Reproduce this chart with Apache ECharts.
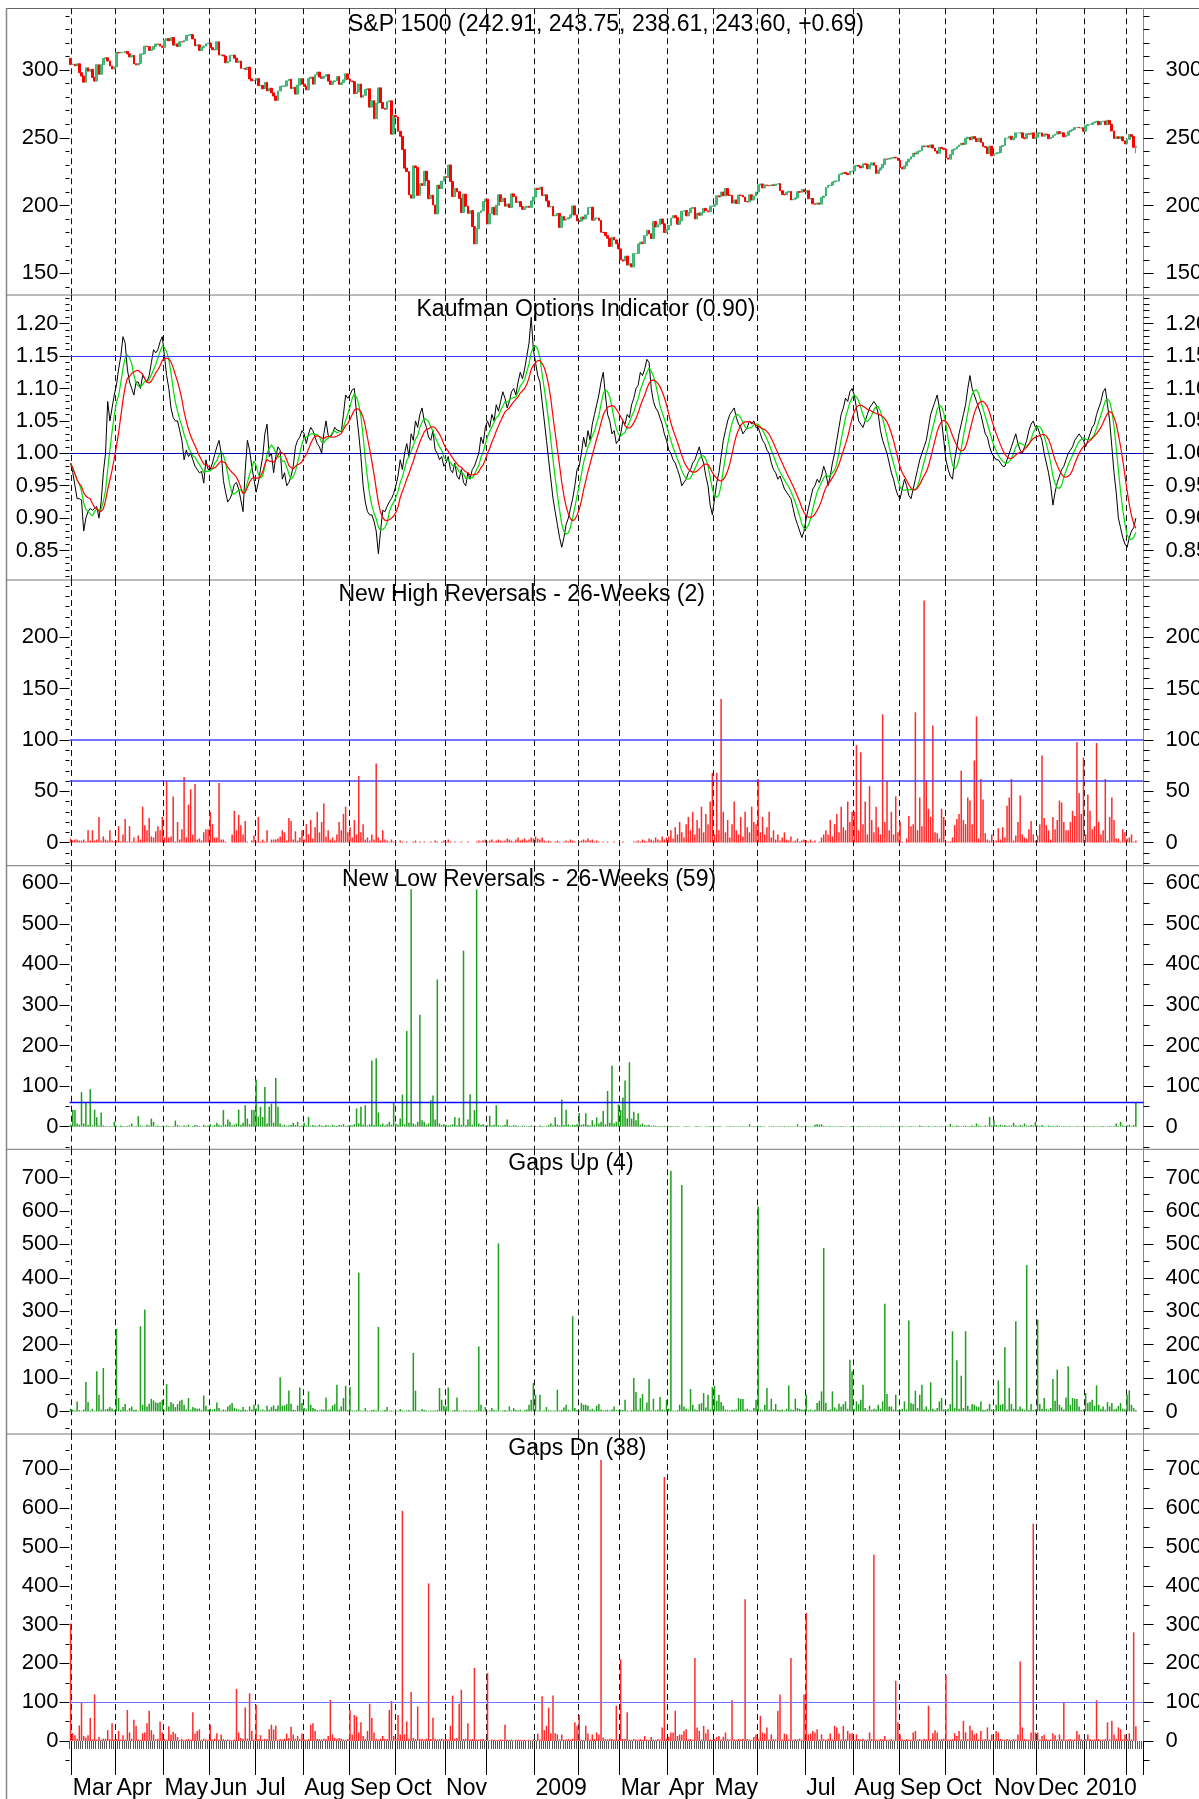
<!DOCTYPE html>
<html>
<head>
<meta charset="utf-8">
<title>S&P 1500 breadth panels</title>
<script src="https://cdn.jsdelivr.net/npm/echarts@6/dist/echarts.min.js"></script>
<style>
  html, body { margin: 0; padding: 0; background: #fff; }
  #main { width: 1199px; height: 1799px; }
</style>
</head>
<body>
<div id="main"></div>
<script>
// ---- calendar ----
const startDate = '2008-02-29';
const endDate = '2010-02-05';
const holidays = ['2008-03-21', '2008-05-26', '2008-07-04', '2008-09-01', '2008-11-27', '2008-12-25',
  '2009-01-01', '2009-01-19', '2009-02-16', '2009-04-10', '2009-05-25', '2009-07-03', '2009-09-07',
  '2009-11-26', '2009-12-25', '2010-01-01', '2010-01-18'];
const padDays = 3; // empty slots after the last bar
// month labels from Mar 2008 to Feb 2010 ('' = not printed)
const monthLabels = ['Mar', 'Apr', 'May', 'Jun', 'Jul', 'Aug', 'Sep', 'Oct', 'Nov', '', '2009', '',
  'Mar', 'Apr', 'May', '', 'Jul', 'Aug', 'Sep', 'Oct', 'Nov', 'Dec', '2010', ''];

// ---- S&P 1500 closes ----
const firstOpen = 308.6;
const lastHighLow = [243.75, 238.61];
const closes = [
  304.0,
  304.2, 303.0, 304.6, 298.0, 295.5, 291.0, 301.6, 299.1, 300.5, 294.5, 291.8, 303.9, 296.8, 303.9, 308.5, 309.0, 306.6, 303.0, 300.7, 302.3,
  313.0, 312.6, 313.0, 313.0, 313.7, 311.9, 309.6, 310.8, 304.6, 303.7, 304.8, 311.7, 311.9, 317.6, 317.2, 314.4, 315.3, 317.4, 319.2, 319.0, 317.6, 316.7,
  322.0, 323.1, 321.5, 324.0, 318.3, 319.2, 317.4, 320.8, 320.6, 321.7, 325.4, 325.8, 326.1, 322.9, 317.8, 318.5, 314.4, 316.5, 317.6, 319.4, 319.9,
  316.5, 314.9, 314.9, 320.8, 311.0, 311.0, 310.3, 305.3, 306.2, 310.8, 311.0, 308.7, 305.7, 306.6, 301.2, 301.2, 300.5, 302.1, 293.4, 292.0, 292.5,
  293.6, 288.4, 288.6, 286.1, 290.9, 284.5, 286.5, 283.1, 280.8, 277.6, 284.5, 287.9, 288.1, 288.1, 292.0, 293.2, 286.3, 287.2, 282.2, 288.8, 293.6, 289.5,
  287.9, 285.4, 293.6, 294.8, 289.5, 296.4, 298.4, 294.8, 293.9, 295.4, 296.6, 291.8, 289.3, 291.3, 292.0, 295.2, 289.3, 290.7, 292.7, 297.1, 293.2,
  291.8, 291.3, 282.6, 283.8, 289.7, 279.9, 281.3, 285.6, 286.1, 272.6, 277.4, 264.1, 275.6, 286.8, 276.0, 271.7, 271.0, 276.5, 277.2, 252.7, 266.4,
  265.3, 254.8, 251.1, 241.3, 227.6, 225.1, 207.9, 205.4, 229.2, 228.0, 207.5, 216.2, 214.8, 225.3, 218.4, 205.0, 207.7, 200.4, 193.8, 215.0, 212.5, 218.0, 221.4,
  220.7, 229.9, 217.8, 206.6, 212.7, 210.2, 205.2, 194.9, 208.4, 199.5, 194.2, 196.3, 184.4, 171.8, 182.8, 194.7, 196.1, 202.9, 204.7,
  186.5, 194.0, 198.8, 193.1, 200.2, 207.9, 202.9, 205.4, 199.5, 201.1, 198.6, 208.6, 206.6, 202.2, 202.9, 199.3, 197.2, 198.6, 199.5, 198.6, 203.4, 206.3,
  212.7, 211.8, 213.6, 207.3, 207.9, 203.4, 199.0, 199.3, 192.4, 192.9, 194.2, 183.9, 191.9, 189.2, 190.1, 191.0, 193.1, 199.7, 193.1, 188.7,
  188.5, 191.5, 190.1, 193.1, 198.6, 198.8, 189.2, 190.6, 190.8, 189.0, 180.3, 180.1, 177.8, 175.9, 169.8, 176.6, 174.6, 171.8, 168.0,
  160.0, 159.0, 162.7, 156.1, 157.0, 154.7, 164.5, 164.7, 171.6, 173.0, 172.1, 177.8, 181.7, 179.1, 175.7, 188.1, 184.2, 185.8, 190.1, 186.5, 180.1, 182.3,
  185.3, 190.8, 192.6, 191.0, 186.2, 188.7, 195.8, 196.3, 192.4, 194.9, 197.9, 198.6, 190.1, 194.5, 192.9, 194.7, 197.9, 196.1, 195.4, 199.5, 199.5,
  200.6, 207.2, 206.3, 210.0, 207.2, 212.5, 207.7, 207.5, 201.8, 204.1, 201.5, 207.7, 207.5, 206.3, 202.9, 202.7, 207.9, 204.1, 207.0, 210.0,
  215.2, 215.9, 213.0, 215.2, 214.8, 214.6, 215.2, 214.8, 215.7, 216.2, 210.9, 208.2, 207.9, 209.8, 210.4, 204.1, 204.7, 205.7, 210.2, 209.8, 211.8, 210.0,
  210.9, 205.0, 205.2, 201.3, 200.9, 201.8, 201.1, 205.9, 207.0, 213.2, 214.8, 215.0, 217.3, 218.0, 218.0, 223.0, 223.7, 224.4, 223.7, 222.8, 225.3, 225.5,
  229.2, 229.6, 229.0, 227.8, 230.8, 230.3, 227.1, 229.9, 231.5, 229.6, 223.7, 226.2, 227.8, 230.3, 234.4, 234.2, 234.9, 235.1, 235.6, 235.1, 233.3,
  228.0, 227.1, 229.2, 232.2, 234.2, 236.0, 238.6, 238.1, 239.7, 240.4, 244.0, 243.4, 244.0, 243.1, 244.7, 242.4, 240.2, 238.6, 242.9, 242.2, 241.5,
  235.1, 234.2, 237.6, 241.1, 241.8, 243.4, 244.7, 245.9, 245.2, 249.5, 250.4, 248.4, 250.9, 249.3, 247.2, 249.7, 246.5, 243.6, 242.9, 238.3, 243.8, 236.7,
  238.1, 238.8, 239.0, 243.6, 244.3, 249.7, 249.7, 251.1, 248.6, 250.0, 253.6, 253.6, 253.6, 250.0, 249.3, 253.0, 252.5, 253.6, 249.5, 250.4,
  253.4, 253.6, 251.1, 252.7, 252.3, 249.3, 250.2, 251.8, 252.7, 254.5, 253.0, 253.6, 250.7, 251.8, 254.5, 255.5, 256.1, 257.5, 257.7, 257.3, 257.3, 254.8,
  258.9, 259.8, 259.8, 260.9, 261.6, 262.1, 259.6, 261.9, 262.3, 259.6, 262.8, 260.0, 255.0, 249.5, 250.7, 249.5, 250.7, 247.7, 245.4,
  248.8, 252.3, 250.9, 242.91, 243.60
];

// ---- Kaufman Options Indicator (raw) ----
const kaufman = [
  0.985,
  0.97, 0.95, 0.93, 0.93, 0.928, 0.88, 0.90, 0.91, 0.915, 0.912, 0.915, 0.918, 0.90, 0.925, 0.97, 1.00, 1.08, 1.05, 1.07, 1.09,
  1.105, 1.13, 1.15, 1.18, 1.17, 1.13, 1.11, 1.10, 1.09, 1.11, 1.11, 1.10, 1.12, 1.115, 1.11, 1.12, 1.14, 1.16, 1.155, 1.16, 1.172, 1.18,
  1.15, 1.12, 1.10, 1.07, 1.055, 1.05, 1.05, 1.035, 1.02, 0.99, 1.005, 0.995, 1.0, 0.99, 0.98, 0.975, 0.97, 0.972, 0.954, 0.99, 0.975,
  0.975, 0.985, 0.998, 1.01, 1.02, 1.0, 0.958, 0.94, 0.925, 0.93, 0.938, 0.952, 0.955, 0.945, 0.928, 0.91, 0.974, 1.02, 1.005, 0.98, 0.96,
  0.94, 0.955, 0.975, 0.995, 1.03, 1.045, 0.995, 1.0, 0.97, 0.995, 1.01, 1.005, 0.96, 0.97, 0.95, 0.955, 0.965, 0.98, 1.01, 1.02, 1.025, 1.035,
  1.03, 1.015, 1.03, 1.04, 1.035, 1.025, 1.015, 1.01, 1.0, 1.03, 1.05, 1.028, 1.025, 1.03, 1.04, 1.036, 1.035, 1.033, 1.06, 1.09, 1.085,
  1.09, 1.098, 1.10, 1.06, 1.03, 0.995, 0.95, 0.925, 0.91, 0.905, 0.905, 0.895, 0.88, 0.845, 0.88, 0.912, 0.91, 0.918, 0.925, 0.93, 0.938,
  0.95, 0.965, 0.99, 0.975, 1.0, 1.015, 0.995, 1.03, 1.02, 1.05, 1.04, 1.06, 1.07, 1.05, 1.04, 1.025, 1.02, 1.035, 1.005, 1.0, 0.99, 0.995, 0.98,
  0.985, 0.995, 0.975, 0.97, 0.985, 0.965, 0.96, 0.975, 0.955, 0.95, 0.97, 0.96, 0.975, 0.98, 0.99, 1.0, 1.025, 1.015, 1.04,
  1.05, 1.04, 1.06, 1.05, 1.075, 1.065, 1.08, 1.095, 1.085, 1.07, 1.08, 1.095, 1.10, 1.09, 1.11, 1.125, 1.115, 1.13, 1.15, 1.17, 1.21, 1.16,
  1.14, 1.12, 1.11, 1.08, 1.05, 1.02, 0.99, 0.96, 0.93, 0.91, 0.89, 0.87, 0.855, 0.87, 0.89, 0.90, 0.915, 0.93, 0.95, 0.975,
  0.98, 1.0, 1.025, 1.01, 1.035, 1.02, 1.045, 1.06, 1.075, 1.09, 1.11, 1.125, 1.09, 1.06, 1.05, 1.03, 1.035, 1.015, 1.02,
  1.03, 1.05, 1.045, 1.06, 1.055, 1.075, 1.085, 1.10, 1.105, 1.125, 1.12, 1.13, 1.145, 1.14, 1.10, 1.08, 1.07, 1.065, 1.055, 1.045, 1.03, 1.02,
  1.005, 1.0, 0.99, 0.985, 0.975, 0.965, 0.95, 0.955, 0.96, 0.97, 0.975, 0.985, 0.99, 1.0, 1.01, 0.995, 0.985, 0.965, 0.95, 0.92, 0.905,
  0.93, 0.955, 0.97, 0.995, 1.02, 1.035, 1.05, 1.06, 1.065, 1.07, 1.055, 1.045, 1.04, 1.03, 1.035, 1.04, 1.05, 1.045, 1.05, 1.04,
  1.04, 1.03, 1.02, 1.015, 1.005, 1.0, 0.985, 0.975, 0.97, 0.96, 0.965, 0.955, 0.945, 0.94, 0.935, 0.93, 0.915, 0.90, 0.89, 0.88, 0.87, 0.88,
  0.90, 0.915, 0.93, 0.945, 0.95, 0.96, 0.955, 0.965, 0.98, 0.97, 0.95, 0.965, 0.985, 1.0, 1.02, 1.04, 1.06, 1.07, 1.085, 1.08, 1.095, 1.10,
  1.09, 1.07, 1.05, 1.045, 1.04, 1.05, 1.06, 1.07, 1.075, 1.08, 1.075, 1.06, 1.035, 1.02, 1.01, 1.0, 0.985, 0.97, 0.96, 0.945, 0.935,
  0.93, 0.945, 0.96, 0.95, 0.935, 0.93, 0.945, 0.96, 0.975, 0.99, 1.0, 1.01, 1.02, 1.04, 1.06, 1.07, 1.08, 1.09, 1.07, 1.05, 1.02,
  0.99, 0.975, 0.965, 0.96, 0.99, 1.01, 1.03, 1.045, 1.06, 1.075, 1.10, 1.12, 1.10, 1.09, 1.08, 1.07, 1.06, 1.045, 1.03, 1.025, 1.01, 1.0,
  0.995, 0.99, 0.99, 0.985, 0.98, 0.98, 0.99, 1.0, 1.01, 1.02, 1.03, 1.015, 1.005, 1.0, 1.01, 1.02, 1.035, 1.045, 1.05, 1.04,
  1.04, 1.03, 1.02, 1.0, 0.985, 0.97, 0.95, 0.92, 0.94, 0.955, 0.965, 0.975, 0.98, 0.99, 1.0, 1.005, 1.01, 1.02, 1.025, 1.03, 1.025, 1.02,
  1.01, 1.02, 1.03, 1.04, 1.045, 1.06, 1.07, 1.08, 1.095, 1.10, 1.075, 1.05, 1.01, 0.97, 0.94, 0.90, 0.885, 0.87, 0.86,
  0.855, 0.87, 0.88, 0.885, 0.90
];
const fastLen = 5, slowLen = 10;

// ---- New High Reversals - 26 weeks ----
const newHighRev = [
  4,
  2, 3, 3, 2, 2, 3, 1, 12, 2, 12, 2, 3, 25, 2, 6, 3, 2, 12, 2, 1,
  2, 16, 1, 8, 23, 1, 16, 1, 5, 1, 7, 3, 35, 17, 12, 24, 6, 5, 11, 16, 12, 25,
  5, 60, 5, 6, 45, 1, 20, 3, 13, 64, 5, 37, 52, 8, 57, 3, 4, 2, 10, 13, 13,
  30, 18, 5, 5, 58, 3, 3, 1, 0, 0, 8, 31, 12, 27, 17, 8, 21, 1, 0, 2, 7,
  1, 25, 1, 3, 1, 12, 0, 3, 3, 3, 4, 6, 12, 10, 2, 24, 21, 3, 11, 2, 5, 12,
  3, 18, 8, 22, 4, 15, 30, 10, 20, 38, 6, 12, 3, 5, 2, 8, 20, 12, 28, 35, 10,
  15, 5, 22, 8, 65, 10, 18, 3, 5, 2, 8, 3, 77, 5, 2, 12, 3, 2, 1, 3, 1,
  1, 0, 2, 1, 0, 1, 0, 0, 1, 2, 0, 1, 0, 1, 0, 0, 1, 0, 2, 1, 0, 1, 2,
  1, 3, 1, 0, 1, 0, 0, 1, 0, 0, 1, 0, 0, 0, 1, 2, 1, 2, 3,
  1, 2, 3, 1, 2, 3, 2, 1, 2, 4, 3, 2, 1, 3, 5, 2, 3, 4, 2, 3, 5, 4,
  6, 4, 3, 5, 2, 1, 2, 1, 0, 1, 2, 1, 0, 1, 2, 1, 3, 2, 1, 0,
  1, 2, 3, 2, 4, 2, 3, 1, 2, 1, 0, 1, 0, 1, 0, 0, 1, 0, 0,
  0, 1, 0, 0, 0, 0, 1, 1, 2, 1, 3, 2, 1, 4, 3, 2, 5, 3, 2, 6, 3, 5,
  6, 12, 4, 15, 8, 20, 10, 5, 18, 25, 12, 30, 8, 22, 14, 35, 10, 28, 18, 40, 68,
  8, 68, 12, 140, 30, 10, 22, 5, 18, 40, 12, 8, 25, 6, 30, 15, 10, 35, 20, 18,
  62, 10, 25, 8, 15, 30, 5, 12, 3, 8, 2, 5, 10, 3, 2, 6, 1, 2, 4, 1, 2, 3,
  2, 1, 3, 1, 2, 0, 1, 5, 8, 12, 8, 22, 6, 18, 28, 10, 35, 15, 12, 40, 20, 30,
  30, 95, 12, 88, 18, 40, 8, 55, 22, 10, 35, 15, 8, 125, 20, 60, 12, 30, 8, 45, 10,
  20, 1, 0, 4, 26, 16, 18, 127, 12, 44, 16, 236, 61, 33, 25, 114, 10, 9, 4, 33, 25,
  1, 1, 1, 5, 17, 23, 28, 70, 22, 18, 44, 41, 18, 80, 123, 4, 62, 42, 9, 3, 2, 8,
  1, 2, 14, 3, 15, 5, 36, 44, 62, 2, 7, 20, 46, 8, 5, 4, 13, 21, 8, 2,
  7, 18, 85, 24, 17, 12, 3, 25, 13, 22, 41, 39, 20, 12, 12, 20, 31, 26, 98, 48, 28, 83,
  8, 47, 31, 13, 16, 97, 20, 8, 12, 62, 2, 25, 44, 22, 4, 4, 1, 13, 10,
  4, 5, 8, 1, 2
];

// ---- New Low Reversals - 26 weeks ----
const newLowRev = [
  5,
  41, 41, 8, 5, 85, 8, 61, 4, 92, 3, 42, 23, 3, 35, 3, 2, 1, 2, 1, 12,
  2, 1, 3, 2, 1, 2, 3, 8, 1, 2, 26, 3, 2, 1, 5, 3, 20, 12, 2, 3, 1, 2,
  1, 3, 2, 1, 2, 15, 4, 2, 1, 3, 2, 5, 1, 2, 4, 3, 2, 1, 5, 2, 3,
  6, 2, 4, 10, 5, 3, 41, 5, 18, 12, 3, 5, 8, 42, 5, 10, 53, 20, 6, 42, 41,
  116, 25, 49, 24, 98, 8, 49, 57, 10, 120, 49, 8, 3, 5, 2, 3, 4, 10, 4, 12, 2, 3,
  10, 3, 24, 2, 4, 3, 2, 5, 3, 2, 4, 3, 2, 5, 3, 2, 4, 3, 6, 2, 3,
  4, 3, 6, 45, 8, 49, 5, 53, 3, 6, 163, 4, 169, 35, 5, 8, 3, 6, 12, 5, 61,
  8, 5, 20, 79, 6, 236, 10, 585, 8, 5, 12, 276, 16, 12, 5, 8, 65, 77, 18, 363, 8, 4, 6,
  5, 3, 4, 6, 24, 3, 22, 5, 434, 4, 18, 80, 5, 41, 585, 8, 4, 6, 3,
  4, 27, 3, 5, 53, 4, 2, 3, 5, 18, 3, 2, 4, 3, 2, 1, 3, 2, 1, 2, 3, 1,
  2, 1, 3, 2, 1, 2, 4, 8, 3, 23, 5, 3, 67, 4, 42, 6, 3, 5, 4, 6,
  34, 5, 6, 33, 4, 3, 16, 5, 23, 8, 12, 39, 6, 88, 10, 150, 8, 12, 55,
  41, 72, 114, 20, 159, 20, 37, 16, 33, 5, 8, 4, 3, 5, 2, 3, 2, 1, 2, 1, 2, 1,
  1, 2, 1, 1, 2, 1, 0, 1, 2, 1, 1, 0, 1, 2, 1, 1, 0, 1, 1, 2, 1,
  1, 1, 2, 1, 0, 1, 1, 2, 1, 1, 1, 1, 1, 1, 1, 1, 6, 1, 2, 1,
  1, 2, 1, 1, 0, 1, 1, 2, 1, 1, 1, 1, 2, 1, 1, 1, 1, 1, 6, 1, 2, 1,
  2, 1, 1, 1, 5, 6, 5, 6, 2, 1, 1, 2, 1, 1, 1, 1, 2, 1, 1, 1, 1, 2,
  1, 1, 2, 1, 1, 1, 1, 2, 1, 1, 1, 1, 2, 1, 1, 1, 1, 1, 2, 1, 1,
  1, 2, 1, 1, 1, 2, 1, 1, 1, 3, 2, 1, 1, 2, 1, 1, 2, 1, 1, 2, 1,
  2, 1, 7, 2, 1, 3, 2, 1, 2, 3, 1, 2, 3, 2, 8, 3, 2, 1, 3, 2, 24, 3,
  16, 4, 3, 5, 3, 4, 2, 3, 3, 10, 3, 2, 4, 3, 8, 3, 2, 4, 3, 12,
  3, 2, 4, 2, 1, 3, 2, 2, 1, 3, 2, 1, 2, 1, 1, 2, 1, 1, 2, 1, 1, 2,
  1, 2, 1, 1, 2, 1, 1, 1, 2, 1, 1, 2, 1, 2, 8, 2, 12, 3, 2,
  3, 5, 2, 4, 59
];

// ---- Gaps Up ----
const gapsUp = [
  8,
  5, 3, 30, 4, 2, 6, 88, 28, 3, 8, 2, 120, 50, 5, 130, 6, 8, 13, 9, 4,
  247, 40, 5, 13, 22, 3, 10, 15, 4, 6, 2, 255, 20, 305, 15, 23, 38, 33, 27, 25, 28, 35,
  4, 82, 15, 28, 23, 13, 22, 32, 35, 20, 6, 40, 5, 13, 10, 8, 9, 4, 48, 17, 6,
  8, 5, 7, 27, 10, 3, 6, 4, 15, 20, 25, 10, 8, 6, 4, 13, 5, 3, 15, 6, 20,
  9, 21, 4, 6, 3, 17, 5, 13, 18, 7, 18, 102, 17, 18, 22, 63, 23, 5, 4, 18, 72, 25,
  10, 6, 60, 20, 10, 7, 4, 3, 6, 5, 42, 4, 6, 18, 22, 80, 5, 15, 40, 77, 4,
  73, 3, 2, 4, 415, 3, 2, 10, 3, 2, 4, 5, 3, 253, 2, 3, 4, 13, 2, 3, 2,
  3, 2, 7, 3, 2, 3, 4, 2, 175, 62, 3, 2, 7, 4, 3, 2, 3, 2, 3, 4, 70, 35, 17,
  15, 72, 2, 3, 4, 42, 3, 2, 3, 4, 2, 3, 2, 3, 4, 194, 20, 3, 13,
  2, 3, 10, 4, 3, 503, 2, 3, 4, 2, 15, 3, 10, 4, 3, 5, 2, 4, 6, 20, 35, 85,
  50, 3, 50, 2, 3, 13, 4, 3, 2, 3, 65, 3, 4, 12, 20, 5, 3, 285, 10, 4,
  3, 25, 20, 20, 17, 5, 8, 4, 17, 22, 6, 3, 4, 5, 3, 6, 15, 4, 3,
  5, 4, 35, 3, 2, 4, 100, 58, 5, 40, 52, 4, 27, 97, 3, 38, 4, 5, 43, 6, 4, 35,
  8, 720, 3, 2, 4, 20, 678, 15, 8, 5, 67, 20, 6, 4, 22, 25, 55, 12, 50, 6, 73,
  77, 32, 50, 28, 17, 6, 4, 3, 5, 4, 6, 40, 37, 37, 5, 8, 4, 3, 10, 35,
  613, 6, 4, 20, 70, 5, 38, 6, 22, 5, 4, 6, 3, 8, 78, 6, 4, 38, 10, 8, 6, 5,
  50, 4, 6, 3, 5, 25, 32, 60, 489, 25, 4, 6, 60, 12, 6, 23, 15, 22, 30, 8, 155, 120,
  6, 30, 22, 35, 80, 10, 4, 17, 5, 8, 6, 20, 8, 30, 322, 52, 15, 15, 6, 50, 4,
  5, 8, 30, 6, 272, 25, 22, 62, 10, 50, 80, 6, 15, 5, 87, 8, 4, 10, 30, 40, 6,
  4, 8, 22, 240, 10, 153, 8, 107, 10, 240, 17, 6, 22, 20, 15, 13, 30, 5, 4, 8, 22, 6,
  4, 20, 93, 20, 22, 192, 6, 70, 22, 8, 270, 6, 15, 8, 5, 438, 4, 22, 4, 6,
  275, 22, 8, 40, 8, 5, 10, 97, 32, 125, 20, 12, 6, 42, 135, 20, 40, 38, 37, 15, 4, 6,
  55, 25, 28, 35, 17, 78, 20, 8, 15, 5, 28, 15, 25, 6, 8, 17, 25, 8, 6,
  50, 63, 20, 10, 4
];

// ---- Gaps Down ----
const gapsDn = [
  303,
  20, 15, 6, 40, 100, 13, 9, 15, 59, 4, 120, 3, 10, 3, 6, 6, 28, 5, 46, 4,
  5, 26, 3, 15, 4, 80, 22, 6, 55, 39, 4, 3, 20, 22, 46, 78, 28, 17, 4, 6, 50, 22,
  5, 3, 38, 17, 24, 19, 10, 3, 5, 2, 4, 6, 3, 74, 19, 26, 30, 3, 6, 4, 3,
  42, 4, 6, 20, 3, 17, 5, 3, 4, 3, 2, 4, 134, 22, 8, 5, 86, 6, 123, 26, 4,
  93, 5, 15, 3, 6, 5, 30, 42, 30, 39, 3, 5, 4, 6, 19, 8, 37, 17, 6, 13, 5, 19,
  4, 3, 5, 42, 46, 26, 6, 5, 4, 6, 5, 13, 106, 17, 8, 6, 8, 6, 4, 3, 5,
  80, 17, 67, 63, 22, 48, 13, 5, 26, 96, 59, 22, 5, 4, 6, 13, 6, 5, 80, 103, 13,
  5, 67, 17, 593, 17, 50, 6, 126, 8, 5, 89, 6, 5, 4, 6, 406, 5, 60, 6, 4, 5, 6, 4,
  5, 4, 39, 117, 6, 8, 96, 132, 5, 6, 46, 4, 5, 188, 3, 4, 5, 6, 3,
  175, 2, 4, 3, 2, 3, 4, 3, 42, 4, 3, 4, 2, 3, 4, 3, 2, 3, 2, 3, 2, 4,
  3, 19, 4, 115, 28, 39, 86, 20, 117, 20, 17, 4, 17, 3, 4, 5, 3, 6, 48, 39,
  67, 4, 3, 39, 19, 4, 17, 5, 22, 17, 724, 9, 5, 4, 6, 5, 4, 91, 3,
  210, 5, 6, 74, 4, 3, 5, 4, 3, 5, 3, 13, 4, 3, 10, 4, 3, 5, 4, 35, 680, 6,
  11, 22, 22, 78, 13, 17, 16, 26, 30, 4, 5, 3, 214, 35, 26, 4, 39, 20, 30, 4, 3,
  5, 10, 13, 4, 11, 22, 5, 4, 105, 4, 3, 5, 4, 6, 365, 5, 4, 3, 10, 17,
  5, 65, 22, 19, 35, 4, 17, 5, 4, 78, 120, 4, 19, 17, 4, 214, 3, 5, 4, 6, 3, 120,
  330, 17, 19, 26, 22, 30, 4, 17, 5, 3, 6, 19, 4, 39, 35, 19, 4, 39, 5, 26, 19, 20,
  3, 17, 5, 4, 6, 3, 4, 22, 5, 480, 4, 3, 5, 4, 13, 3, 4, 5, 3, 155, 48,
  17, 4, 3, 5, 4, 3, 22, 26, 4, 5, 3, 6, 4, 91, 5, 20, 28, 22, 4, 5, 6,
  170, 4, 3, 5, 20, 13, 26, 4, 52, 22, 5, 39, 28, 17, 20, 4, 26, 4, 5, 35, 4, 17,
  4, 26, 22, 5, 4, 3, 5, 4, 3, 5, 4, 17, 205, 35, 5, 4, 3, 22, 560, 22,
  22, 4, 13, 16, 5, 3, 4, 20, 15, 4, 17, 5, 100, 3, 4, 5, 3, 4, 26, 17, 5, 3,
  4, 17, 5, 3, 4, 105, 5, 3, 4, 5, 48, 4, 52, 17, 6, 35, 30, 4, 17,
  5, 20, 4, 280, 38
];

// ---- axis ticks ----
const priceTicks = [150, 200, 250, 300];
const priceMinor = [140, 160, 170, 180, 190, 210, 220, 230, 240, 260, 270, 280, 290, 310, 320, 330, 340];
const kaufTicks = [0.85, 0.9, 0.95, 1, 1.05, 1.1, 1.15, 1.2];
const kaufMinor = [0.81, 0.82, 0.83, 0.84, 0.86, 0.87, 0.88, 0.89, 0.91, 0.92, 0.93, 0.94, 0.96, 0.97, 0.98, 0.99,
  1.01, 1.02, 1.03, 1.04, 1.06, 1.07, 1.08, 1.09, 1.11, 1.12, 1.13, 1.14, 1.16, 1.17, 1.18, 1.19, 1.21, 1.22, 1.23, 1.24];
const highTicks = [0, 50, 100, 150, 200];
const highMinor = [-20, -10, 10, 20, 30, 40, 60, 70, 80, 90, 110, 120, 130, 140, 160, 170, 180, 190, 210, 220, 230, 240, 250];
const lowTicks = [0, 100, 200, 300, 400, 500, 600];
const lowMinor = [-50, 50, 150, 250, 350, 450, 550];
const gapTicks = [0, 100, 200, 300, 400, 500, 600, 700];
const gapMinor = [-50, 50, 150, 250, 350, 450, 550, 650, 750];

// ---- build ----
function tradingDays() {
  const out = [];
  const d = new Date(startDate + 'T00:00:00Z');
  const end = new Date(endDate + 'T00:00:00Z');
  while (d <= end) {
    const wd = d.getUTCDay();
    const s = d.toISOString().slice(0, 10);
    if (wd !== 0 && wd !== 6 && holidays.indexOf(s) < 0) out.push(s);
    d.setUTCDate(d.getUTCDate() + 1);
  }
  return out;
}
const days = tradingDays();
[closes, kaufman, newHighRev, newLowRev, gapsUp, gapsDn].forEach((a, k) => {
  if (a.length !== days.length) throw new Error('series ' + k + ' has ' + a.length + ' values, days ' + days.length);
});
const cats = days.concat(Array.from({length: padDays}, (_, i) => 'pad' + i));
const isMonthStart = cats.map((d, i) => i > 0 && i < days.length && d.slice(0, 7) !== cats[i - 1].slice(0, 7));
const labelOf = {};
let m = 0;
cats.forEach((d, i) => { if (isMonthStart[i]) labelOf[d] = monthLabels[m++] || ''; });

const ohlc = closes.map((c, i) => {
  const o = i ? closes[i - 1] : firstOpen;
  let lo = Math.min(o, c), hi = Math.max(o, c);
  if (i === closes.length - 1) { hi = lastHighLow[0]; lo = lastHighLow[1]; }
  return [o, c, lo, hi];
});
function sma(arr, n) {
  return arr.map((v, i) => {
    const s = arr.slice(Math.max(0, i - n + 1), i + 1);
    return +(s.reduce((a, b) => a + b, 0) / s.length).toFixed(4);
  });
}

const font = '"Liberation Sans", Arial, Helvetica, sans-serif';
const plotLeft = 69.5, plotWidth = 1074;
const panels = [
  {top: 8.3, bottom: 295, min: 134, max: 345.5, major: priceTicks, minor: priceMinor, titleTop: 13, titleLeft: 348,
    title: 'S&P 1500 (242.91, 243.75, 238.61, 243.60, +0.69)'},
  {top: 295, bottom: 580, min: 0.8045, max: 1.2443, major: kaufTicks, minor: kaufMinor, titleTop: 298, titleLeft: 416.5,
    title: 'Kaufman Options Indicator (0.90)', fmt: v => v.toFixed(2)},
  {top: 580, bottom: 865.7, min: -22.5, max: 255.9, major: highTicks, minor: highMinor, titleTop: 583, titleLeft: 338.5,
    title: 'New High Reversals - 26-Weeks (2)'},
  {top: 865.7, bottom: 1149.3, min: -55.7, max: 643.3, major: lowTicks, minor: lowMinor, titleTop: 868.5, titleLeft: 342,
    title: 'New Low Reversals - 26-Weeks (59)'},
  {top: 1149.3, bottom: 1434, min: -67.5, max: 784.5, major: gapTicks, minor: gapMinor, titleTop: 1152.5, titleLeft: 508.3,
    title: 'Gaps Up (4)'},
  {top: 1434, bottom: 1767, min: -67, max: 791, major: gapTicks, minor: gapMinor, titleTop: 1437, titleLeft: 508.3,
    title: 'Gaps Dn (38)'}
];

const grid = panels.map(p => ({
  left: plotLeft, width: plotWidth, top: p.top, height: p.bottom - p.top,
  containLabel: false, outerBoundsMode: 'none', show: false
}));

const xAxis = panels.map((p, g) => ({
  type: 'category', gridIndex: g, data: cats, boundaryGap: true,
  axisLine: {show: false}, axisTick: {show: false}, axisLabel: {show: false},
  splitLine: {show: true, interval: i => isMonthStart[i], lineStyle: {color: '#111', width: 1, type: [6, 4]}}
}));
// bottom date scale: daily ticks, then month marks with labels
xAxis.push({
  type: 'category', gridIndex: 5, data: cats, boundaryGap: true, position: 'bottom',
  axisLine: {show: false}, axisLabel: {show: false}, splitLine: {show: false},
  axisTick: {show: true, interval: 0, length: 8, lineStyle: {color: '#555', width: 1}}
});
xAxis.push({
  type: 'category', gridIndex: 5, data: cats, boundaryGap: true, position: 'bottom',
  axisLine: {show: false}, splitLine: {show: false},
  axisTick: {show: true, interval: i => isMonthStart[i], length: 34, lineStyle: {color: '#000', width: 1}},
  axisLabel: {show: true, interval: i => isMonthStart[i] && !!labelOf[cats[i]], formatter: v => labelOf[v] || '',
    align: 'left', margin: 10, fontSize: 23, color: '#000', fontFamily: font}
});

const yAxis = [];
panels.forEach((p, g) => {
  const base = {type: 'value', gridIndex: g, min: p.min, max: p.max, splitLine: {show: false}, axisLine: {show: false}};
  const fmt = p.fmt || (v => String(v));
  const lab = {customValues: p.major, formatter: fmt, fontSize: 22, color: '#000', fontFamily: font};
  yAxis.push(Object.assign({}, base, {position: 'left',
    axisTick: {show: true, customValues: p.major, length: 10, lineStyle: {color: '#000'}},
    axisLabel: Object.assign({margin: 11}, lab)}));
  yAxis.push(Object.assign({}, base, {position: 'left',
    axisTick: {show: true, customValues: p.minor, length: 4, lineStyle: {color: '#000'}},
    axisLabel: {show: false}}));
  yAxis.push(Object.assign({}, base, {position: 'right',
    axisLine: {show: true, lineStyle: {color: '#888', width: 1}},
    axisTick: {show: true, customValues: p.major, length: 10, lineStyle: {color: '#000'}},
    axisLabel: Object.assign({margin: 22}, lab)}));
  yAxis.push(Object.assign({}, base, {position: 'right',
    axisTick: {show: true, customValues: p.minor, length: 6, lineStyle: {color: '#000'}},
    axisLabel: {show: false}}));
});

function hline(values, color, width) {
  return {silent: true, symbol: 'none', animation: false, label: {show: false},
    data: values.map(v => ({yAxis: v, lineStyle: {color: color, width: width, type: 'solid'}}))};
}
function bars(g, data, color, mark) {
  const s = {type: 'bar', xAxisIndex: g, yAxisIndex: g * 4, data: data, barWidth: 1.5,
    itemStyle: {color: color}, animation: false};
  if (mark) s.markLine = mark;
  return s;
}

const series = [
  {type: 'candlestick', xAxisIndex: 0, yAxisIndex: 0, data: ohlc, barWidth: 2.2,
    itemStyle: {color: '#4cbb7c', color0: '#ff0000', borderColor: '#3cb371', borderColor0: '#ff0000', borderWidth: 1}},
  {type: 'line', xAxisIndex: 1, yAxisIndex: 4, data: kaufman, symbol: 'none', lineStyle: {color: '#000', width: 1}, z: 3,
    markLine: {silent: true, symbol: 'none', label: {show: false},
      data: [{yAxis: 1.15, lineStyle: {color: '#3a3aff', width: 1.2, type: 'solid'}},
             {yAxis: 1.0, lineStyle: {color: '#0000b0', width: 1.2, type: 'solid'}}]}},
  {type: 'line', xAxisIndex: 1, yAxisIndex: 4, data: sma(kaufman, fastLen), symbol: 'none', lineStyle: {color: '#00dd00', width: 1.2}, z: 4},
  {type: 'line', xAxisIndex: 1, yAxisIndex: 4, data: sma(kaufman, slowLen), symbol: 'none', lineStyle: {color: '#ff0000', width: 1.2}, z: 5},
  bars(2, newHighRev, '#ff2a2a', hline([100, 60], '#4646ff', 1.6)),
  bars(3, newLowRev, '#1f9e1f', hline([60], '#0a0aff', 1.3)),
  bars(4, gapsUp, '#1f9e1f'),
  bars(5, gapsDn, '#ff2a2a', hline([100], '#7373ff', 1.2))
];

const title = panels.map(p => ({
  text: p.title, left: p.titleLeft, top: p.titleTop, textAlign: 'left', padding: 0,
  textStyle: {fontSize: 23, fontWeight: 'normal', color: '#000', fontFamily: font}
}));

const sepColor = '#777';
const graphic = [
  {type: 'line', shape: {x1: 6, y1: 8.5, x2: 1199, y2: 8.5}, style: {stroke: '#666', lineWidth: 1}, silent: true},
  {type: 'line', shape: {x1: 6.5, y1: 8, x2: 6.5, y2: 1799}, style: {stroke: '#888', lineWidth: 1.5}, silent: true}
].concat(panels.slice(1).map(p => ({
  type: 'line', shape: {x1: 6, y1: p.top, x2: 1199, y2: p.top}, style: {stroke: sepColor, lineWidth: 1}, silent: true
})));

const chart = echarts.init(document.getElementById('main'), null, {renderer: 'canvas'});
chart.setOption({
  animation: false,
  backgroundColor: '#fff',
  textStyle: {fontFamily: font},
  title: title,
  grid: grid,
  xAxis: xAxis,
  yAxis: yAxis,
  series: series,
  graphic: graphic
});
</script>
</body>
</html>
